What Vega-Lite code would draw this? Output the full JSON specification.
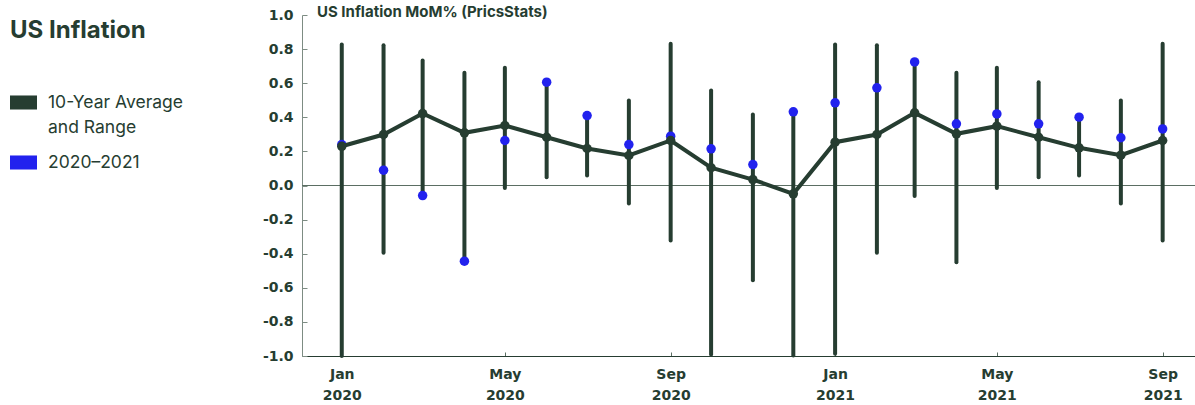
{
  "$schema": "https://vega.github.io/schema/vega-lite/v6.json",
  "autosize": {"type": "none"},
  "width": 893,
  "height": 341,
  "padding": {"left": 302, "top": 15, "right": 0, "bottom": 49},
  "background": "white",
  "title": {
    "text": "US Inflation MoM% (PricsStats)",
    "anchor": "start",
    "frame": "group",
    "orient": "top",
    "baseline": "alphabetic",
    "offset": -24,
    "dx": 15,
    "font": "Inter",
    "fontSize": 15,
    "fontWeight": "bold",
    "color": "#263d31"
  },
  "config": {
    "view": {"stroke": null},
    "font": "Inter",
    "axis": {"labelOverlap": false},
    "axisY": {
      "title": null,
      "grid": false,
      "labelOverlap": false,
      "labelFont": "DejaVu Sans",
      "labelFontWeight": "bold",
      "labelFontSize": 14,
      "labelColor": "#263d31",
      "labelPadding": 14,
      "domainColor": "#7d8c83",
      "domainWidth": 1,
      "tickColor": "#7d8c83",
      "tickSize": -5,
      "tickWidth": 1
    }
  },
  "data": {
    "values": [
      {"date": "2020-01-01", "avg": 0.23, "lo": -1.0, "hi": 0.827, "actual": 0.24},
      {"date": "2020-02-01", "avg": 0.299, "lo": -0.395, "hi": 0.823, "actual": 0.09},
      {"date": "2020-03-01", "avg": 0.422, "lo": -0.05, "hi": 0.733, "actual": -0.059},
      {"date": "2020-04-01", "avg": 0.309, "lo": -0.444, "hi": 0.661, "actual": -0.444},
      {"date": "2020-05-01", "avg": 0.352, "lo": -0.014, "hi": 0.69, "actual": 0.264},
      {"date": "2020-06-01", "avg": 0.283, "lo": 0.049, "hi": 0.606, "actual": 0.606},
      {"date": "2020-07-01", "avg": 0.217, "lo": 0.059, "hi": 0.41, "actual": 0.41},
      {"date": "2020-08-01", "avg": 0.176, "lo": -0.106, "hi": 0.499, "actual": 0.24},
      {"date": "2020-09-01", "avg": 0.264, "lo": -0.323, "hi": 0.831, "actual": 0.289},
      {"date": "2020-10-01", "avg": 0.104, "lo": -0.991, "hi": 0.557, "actual": 0.215},
      {"date": "2020-11-01", "avg": 0.035, "lo": -0.555, "hi": 0.416, "actual": 0.123},
      {"date": "2020-12-01", "avg": -0.049, "lo": -0.997, "hi": 0.432, "actual": 0.432},
      {"date": "2021-01-01", "avg": 0.254, "lo": -0.987, "hi": 0.827, "actual": 0.485},
      {"date": "2021-02-01", "avg": 0.299, "lo": -0.395, "hi": 0.823, "actual": 0.573},
      {"date": "2021-03-01", "avg": 0.426, "lo": -0.062, "hi": 0.725, "actual": 0.725},
      {"date": "2021-04-01", "avg": 0.303, "lo": -0.45, "hi": 0.661, "actual": 0.362},
      {"date": "2021-05-01", "avg": 0.348, "lo": -0.014, "hi": 0.69, "actual": 0.42},
      {"date": "2021-06-01", "avg": 0.283, "lo": 0.049, "hi": 0.606, "actual": 0.362},
      {"date": "2021-07-01", "avg": 0.221, "lo": 0.059, "hi": 0.401, "actual": 0.401},
      {"date": "2021-08-01", "avg": 0.178, "lo": -0.106, "hi": 0.499, "actual": 0.28},
      {"date": "2021-09-01", "avg": 0.264, "lo": -0.323, "hi": 0.831, "actual": 0.332}
    ]
  },
  "encoding": {
    "x": {
      "field": "date",
      "type": "temporal",
      "scale": {
        "type": "utc",
        "domain": [
          {"year": 2019, "month": 12, "date": 2, "hours": 12, "utc": true},
          {"year": 2021, "month": 9, "date": 25, "utc": true}
        ],
        "nice": false
      },
      "axis": {
        "title": null,
        "grid": false,
        "tickCount": {"interval": "month", "step": 4},
        "labelExpr": "[utcFormat(datum.value, '%b'), utcFormat(datum.value, '%Y')]",
        "labelFont": "DejaVu Sans",
        "labelFontWeight": "bold",
        "labelFontSize": 14,
        "labelLineHeight": 21,
        "labelColor": "#263d31",
        "labelPadding": 15,
        "labelBaseline": "top",
        "domainColor": "#263d31",
        "domainWidth": 1,
        "tickColor": "#5b6e63",
        "tickSize": -4,
        "tickWidth": 1
      }
    }
  },
  "layer": [
    {
      "mark": {"type": "rule", "color": "#5b6e63", "strokeWidth": 1},
      "encoding": {
        "x": null,
        "y": {
          "datum": 0,
          "type": "quantitative",
          "scale": {"domain": [-1, 1], "nice": false, "zero": false},
          "axis": {
            "tickCount": 11,
            "labelOverlap": false,
            "labelSeparation": -40,
            "labelExpr": "replace(format(datum.value, '.1f'), '\u2212', '-')"
          }
        }
      }
    },
    {
      "mark": {"type": "rule", "color": "#263d31", "strokeWidth": 4, "strokeCap": "round"},
      "encoding": {
        "y": {"field": "lo", "type": "quantitative", "axis": {"labelOverlap": false, "tickCount": 11, "labelExpr": "replace(format(datum.value, '.1f'), '\u2212', '-')"}},
        "y2": {"field": "hi"}
      }
    },
    {
      "mark": {"type": "point", "filled": true, "size": 90, "opacity": 1},
      "encoding": {
        "y": {"field": "actual", "type": "quantitative", "axis": {"labelOverlap": false, "tickCount": 11, "labelExpr": "replace(format(datum.value, '.1f'), '\u2212', '-')"}},
        "color": {
          "datum": "2020\u20132021",
          "type": "nominal",
          "scale": {
            "domain": ["10-Year Average and Range", "2020\u20132021"],
            "range": ["#263d31", "#2222ee"]
          },
          "legend": {
            "title": "US Inflation",
            "orient": "none",
            "legendX": -292,
            "legendY": 4,
            "titleFont": "Inter",
            "titleFontSize": 24,
            "titleFontWeight": "bold",
            "titleColor": "#263d31",
            "titlePadding": 46,
            "labelFont": "Inter",
            "labelFontSize": 17.5,
            "labelColor": "#263d31",
            "labelLimit": 300,
            "labelOffset": 11,
            "labelExpr": "datum.label == '10-Year Average and Range' ? ['10-Year Average', 'and Range'] : datum.label",
            "symbolType": "M-1,-0.52H1V0.52H-1Z",
            "symbolSize": 729,
            "symbolStrokeWidth": 0,
            "symbolOpacity": 1,
            "rowPadding": 13,
            "encode": {
              "labels": {"update": {"lineHeight": {"value": 25}}},
              "symbols": {"update": {"fill": {"scale": "color", "field": "value"}}}
            }
          }
        }
      }
    },
    {
      "mark": {"type": "line", "color": "#263d31", "strokeWidth": 4},
      "encoding": {"y": {"field": "avg", "type": "quantitative", "axis": {"labelOverlap": false, "tickCount": 11, "labelExpr": "replace(format(datum.value, '.1f'), '\u2212', '-')"}}}
    },
    {
      "mark": {"type": "point", "filled": true, "size": 90, "color": "#263d31", "opacity": 1},
      "encoding": {"y": {"field": "avg", "type": "quantitative", "axis": {"labelOverlap": false, "tickCount": 11, "labelExpr": "replace(format(datum.value, '.1f'), '\u2212', '-')"}}}
    }
  ]
}
